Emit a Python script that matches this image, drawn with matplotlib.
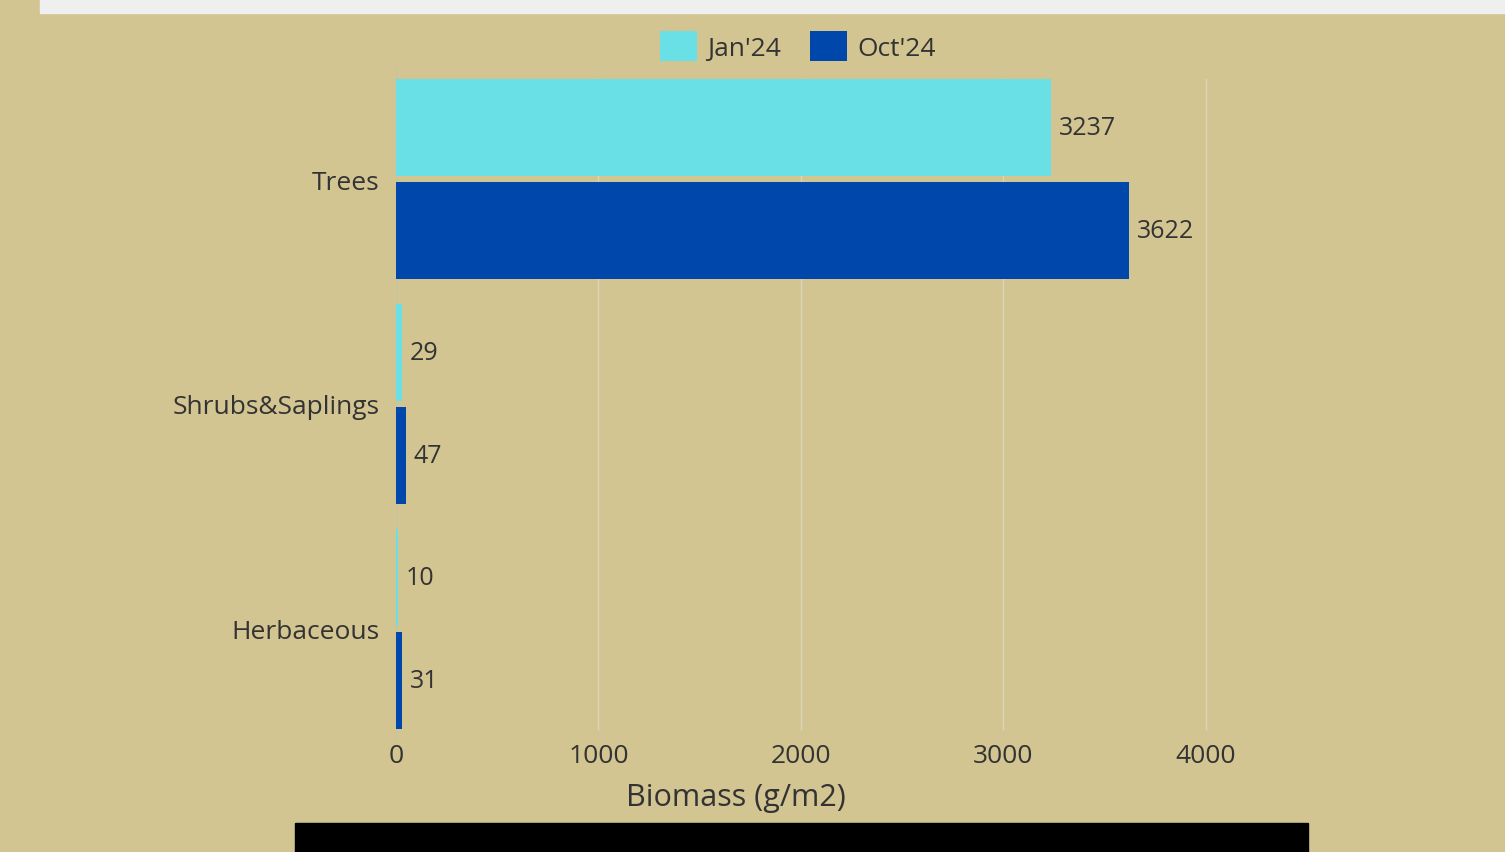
import numpy as np
import matplotlib
matplotlib.use("Agg")
import matplotlib.pyplot as plt
from matplotlib.patches import Rectangle

# vegetation classes and biomass per survey
categories = ["Trees", "Shrubs&Saplings", "Herbaceous"]
jan_24 = [3237, 29, 10]
oct_24 = [3622, 47, 31]
series_labels = ["Jan'24", "Oct'24"]
x_ticks = [0, 1000, 2000, 3000, 4000]

BG = "#d2c592"
CYAN = "#69e0e5"
NAVY = "#0047ab"
TXT = "#333333"

plt.rcParams["font.family"] = ["Open Sans", "DejaVu Sans"]

fig = plt.figure(figsize=(15.05, 8.53), dpi=100, facecolor=BG)
W, H = 1505, 853

# header strip and footer block
fig.patches.append(Rectangle((40 / W, 1 - 14 / H), 1 - 40 / W, 14 / H,
                             transform=fig.transFigure, color="#efefef", zorder=0))
fig.patches.append(Rectangle((295 / W, 0), (1308 - 295) / W, 29 / H,
                             transform=fig.transFigure, color="black", zorder=0))

left, right, top, bottom = 396, 1307, 67.5, 742.5
ax = fig.add_axes([left / W, 1 - bottom / H, (right - left) / W, (bottom - top) / H])
ax.set_facecolor(BG)

y = np.arange(len(categories))
h = 0.43
off = 0.23
b1 = ax.barh(y - off, jan_24, height=h, color=CYAN, label=series_labels[0], zorder=3)
b2 = ax.barh(y + off, oct_24, height=h, color=NAVY, label=series_labels[1], zorder=3)

for bars, vals in ((b1, jan_24), (b2, oct_24)):
    for rect, v in zip(bars, vals):
        ax.text(v + 40, rect.get_y() + rect.get_height() / 2, str(v),
                va="center", ha="left", fontsize=18, color=TXT, zorder=4)

ax.set_xlim(0, 4500)
ax.set_ylim(2.5, -0.5)
ax.set_xticks(x_ticks)
ax.set_xticklabels([str(t) for t in x_ticks], fontsize=19, color=TXT)
ax.set_yticks(y)
ax.set_yticklabels(categories, fontsize=19, color=TXT)
ax.tick_params(length=0)
ax.tick_params(axis="y", pad=12)
ax.tick_params(axis="x", pad=1)
ax.set_xlabel("Biomass (g/m2)", fontsize=22, color=TXT)
ax.xaxis.set_label_coords((736 - left) / (right - left), -0.082)
ax.xaxis.label.set_va("center")

for t in x_ticks[1:]:
    ax.axvline(t, ymin=0.018, ymax=0.982, color="#dcd5b6", lw=1.0, zorder=1)
for s in ax.spines.values():
    s.set_visible(False)
ax.axvline(0, color="#c6c0a8", lw=1.2, zorder=2)

fig.legend(handles=[b1, b2], labels=series_labels, loc="center",
           bbox_to_anchor=(798 / W, 1 - 47 / H), ncol=2, frameon=False,
           fontsize=19, handlelength=1.4, handleheight=1.4, handletextpad=0.4,
           columnspacing=1.1, labelcolor=TXT)

fig.savefig("out.png", dpi=100, facecolor=BG)
